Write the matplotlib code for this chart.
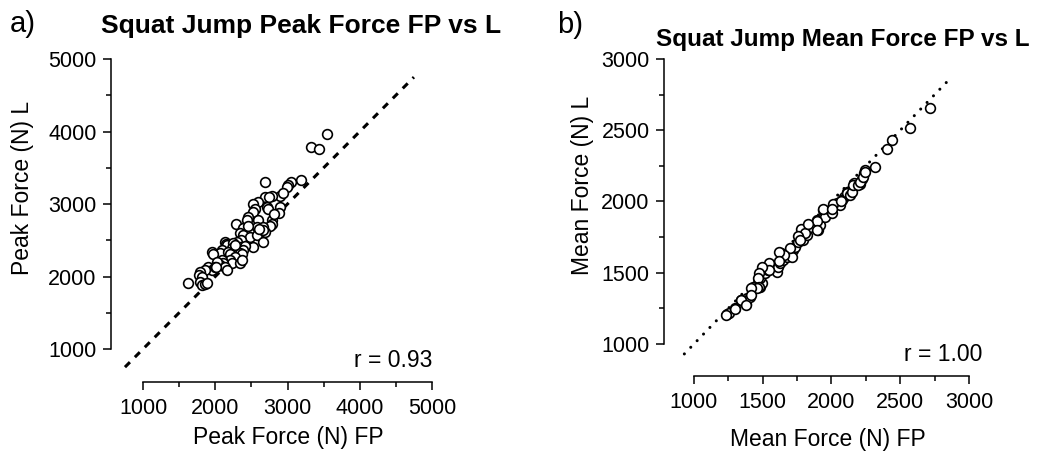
import matplotlib.pyplot as plt
from matplotlib.ticker import MultipleLocator

plt.rcParams['font.family'] = ['Liberation Sans', 'DejaVu Sans']

# Squat jump peak force: force plate (FP) vs linear transducer (L)
peak_fp = [1627, 3542, 3321, 3436, 3183, 3044, 3012, 2989, 2689, 2896,
           2934, 2781, 2689, 2596, 2527, 2712, 2734, 2550, 2896, 2882,
           2527, 2283, 2457, 2435, 2596, 2781, 2781, 2758, 2574, 2643,
           2389, 2343, 2389, 2481, 2574, 2666, 2689, 2666, 2527, 2352,
           2297, 2135, 2149, 2167, 2250, 2228, 2305, 2343, 2412, 2389,
           2089, 2066, 2181, 2204, 2343, 2366, 1950, 1973, 2273, 2204,
           2228, 2343, 2366, 2089, 2112, 2066, 2020, 2135, 2158, 1904,
           1950, 1997, 1858, 1789, 1779, 1812, 1789, 1812, 1858, 1881,
           2742, 2820, 2452, 2659, 2604, 2267, 2005]
peak_l = [1906, 3966, 3782, 3759, 3331, 3308, 3262, 3230, 3299, 3115,
          3148, 3110, 3092, 3024, 3000, 2963, 2931, 2927, 2963, 2871,
          2894, 2724, 2816, 2779, 2779, 2779, 2724, 2697, 2687, 2674,
          2664, 2604, 2572, 2549, 2572, 2687, 2618, 2480, 2411, 2503,
          2480, 2480, 2448, 2434, 2457, 2397, 2389, 2411, 2420, 2366,
          2366, 2329, 2343, 2310, 2320, 2310, 2343, 2310, 2264, 2228,
          2182, 2182, 2228, 2228, 2182, 2159, 2205, 2136, 2090, 2136,
          2090, 2136, 2090, 2066, 2021, 1998, 1928, 1883, 1897, 1915,
          3090, 2856, 2695, 2640, 2659, 2434, 2136]

# Squat jump mean force: force plate (FP) vs linear transducer (L)
mean_fp = [2713, 2573, 2438, 2406, 2320, 2247, 2234, 2222, 2205, 2161,
           2148, 2136, 2112, 2094, 1242, 1257, 1298, 1342, 1376, 1385,
           1407, 1420, 1432, 1480, 1492, 1480, 1504, 1516, 1541, 1565,
           1589, 1601, 1613, 1625, 1633, 1650, 1674, 1698, 1722, 1710,
           1735, 1759, 1778, 1795, 1820, 1844, 1892, 1904, 1916, 1941,
           1953, 1989, 2001, 2038, 2062, 2074, 2110, 2135, 2147, 2159,
           2195, 2207, 2227, 2244, 1805, 1756, 1768, 1695, 1658, 1621,
           1621, 1547, 1547, 1498, 1474, 1466, 1474, 1461, 1412, 1412,
           1339, 1375, 1297, 1236, 1891, 1891, 1829, 1940, 2013, 2001,
           2070]
mean_l = [2658, 2516, 2429, 2370, 2244, 2223, 2200, 2157, 2122, 2133,
          2086, 2063, 2067, 2034, 1211, 1215, 1250, 1309, 1281, 1321,
          1332, 1379, 1402, 1398, 1426, 1461, 1531, 1496, 1519, 1531,
          1543, 1507, 1543, 1566, 1637, 1590, 1613, 1637, 1660, 1613,
          1683, 1718, 1807, 1730, 1765, 1823, 1870, 1800, 1835, 1940,
          1893, 1940, 1917, 1987, 1975, 2011, 2058, 2046, 2069, 2116,
          2116, 2139, 2174, 2209, 1779, 1756, 1732, 1673, 1626, 1645,
          1579, 1567, 1519, 1543, 1496, 1460, 1401, 1390, 1390, 1342,
          1307, 1272, 1248, 1200, 1862, 1803, 1843, 1945, 1980, 1945,
          2004]

peak_identity = [750, 4750]
mean_identity = [930, 2870]
r_peak = 0.93
r_mean = 1.00

W, H = 1046, 463
fig = plt.figure(figsize=(W / 100, H / 100), dpi=100)


def px_axes(left, top, right, bottom):
    return fig.add_axes([left / W, 1 - bottom / H, (right - left) / W, (bottom - top) / H])


def style_axes(ax, lo, hi, major, minor):
    for side in ('top', 'right'):
        ax.spines[side].set_visible(False)
    for side in ('left', 'bottom'):
        ax.spines[side].set_linewidth(1.1)
        ax.spines[side].set_bounds(lo, hi)
    ax.xaxis.set_major_locator(MultipleLocator(major))
    ax.yaxis.set_major_locator(MultipleLocator(major))
    ax.xaxis.set_minor_locator(MultipleLocator(minor))
    ax.yaxis.set_minor_locator(MultipleLocator(minor))
    ax.tick_params(which='major', direction='out', length=5.8, width=1.1,
                   labelsize=15.5, pad=4.5)
    ax.tick_params(which='minor', direction='out', length=3.6, width=1.1)
    ax.tick_params(axis='x', which='major', pad=5.5)


def scatter(ax, x, y):
    ax.plot(x, y, 'o', ms=7, mfc='white', mec='black', mew=1.2,
            clip_on=False, zorder=3)


# a) peak force
ax1 = px_axes(111, 59, 432, 382)
ax1.set_xlim(557, 5000)
ax1.set_ylim(545, 5000)
style_axes(ax1, 1000, 5000, 1000, 500)
ax1.plot(peak_identity, peak_identity, color='black', lw=2.2,
         linestyle=(0, (2.3, 2.3)), clip_on=False, zorder=2)
scatter(ax1, peak_fp, peak_l)
ax1.set_xlabel('Peak Force (N) FP', fontsize=16.5)
ax1.set_ylabel('Peak Force (N) L', fontsize=16.5)
ax1.xaxis.set_label_coords(0.551, -0.135)
ax1.yaxis.set_label_coords(-0.24, 0.60)
fig.text(432 / W, 1 - 367 / H, f'r = {r_peak:.2f}', ha='right', va='baseline',
         fontsize=16.5)
fig.text(301 / W, 1 - 33 / H, 'Squat Jump Peak Force FP vs L', ha='center',
         va='baseline', fontsize=19, fontweight='bold')
fig.text(10 / W, 1 - 32 / H, 'a)', ha='left', va='baseline', fontsize=21)

# b) mean force
ax2 = px_axes(664, 59, 969, 376)
ax2.set_xlim(782, 3000)
ax2.set_ylim(775, 3000)
style_axes(ax2, 1000, 3000, 500, 250)
ax2.plot(mean_identity, mean_identity, color='black', lw=2.2,
         linestyle=(0, (0.01, 3.0)), dash_capstyle='round', clip_on=False, zorder=2)
scatter(ax2, mean_fp, mean_l)
ax2.set_xlabel('Mean Force (N) FP', fontsize=16.5)
ax2.set_ylabel('Mean Force (N) L', fontsize=16.5)
ax2.xaxis.set_label_coords(0.538, -0.165)
ax2.yaxis.set_label_coords(-0.23, 0.60)
fig.text(982 / W, 1 - 361 / H, f'r = {r_mean:.2f}', ha='right', va='baseline',
         fontsize=16.5)
fig.text(843 / W, 1 - 46 / H, 'Squat Jump Mean Force FP vs L', ha='center',
         va='baseline', fontsize=17.5, fontweight='bold')
fig.text(557 / W, 1 - 33 / H, 'b)', ha='left', va='baseline', fontsize=21)

fig.savefig('out.png', dpi=100)
